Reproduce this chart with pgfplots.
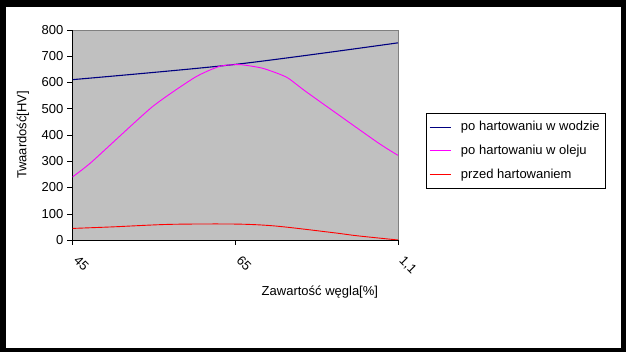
\documentclass[border=0pt]{standalone}
\usepackage{pgfplots}
\pgfplotsset{compat=1.18}
\usepackage{fontspec}
\setmainfont{Liberation Sans}
\definecolor{plotbg}{HTML}{C0C0C0}
\definecolor{navyline}{HTML}{000080}
\definecolor{magline}{HTML}{FF00FF}
\definecolor{redline}{HTML}{FF0000}
\begin{document}
\begin{tikzpicture}
\fill[black] (0pt,0pt) rectangle (626pt,352pt);
\fill[white] (6pt,4pt) rectangle (621pt,345.3pt);
\begin{axis}[
  at={(72.5pt,112pt)}, anchor=south west,
  scale only axis, width=325.5pt, height=210.3pt,
  xmin=0, xmax=2, ymin=0, ymax=800,
  xtick={0,1,2}, xticklabels={45,65,{1,1}},
  ytick={0,100,...,800},
  axis lines=left, axis line style={-, black},
  axis background/.style={fill=plotbg, draw=gray},
  tick align=outside, major tick length=5pt,
  tick style={black, thin},
  font=\fontsize{13}{15}\selectfont,
  /pgf/number format/assume math mode=true,
  yticklabel style={anchor=east, inner sep=0pt, xshift=-4pt},
  xticklabel style={xshift=7pt, yshift=-10pt, rotate=-45, anchor=north west, inner sep=0pt},
  ylabel={Twaardość[HV]},
  ylabel style={at={(axis description cs:-0.152,0.5)}, anchor=center},
  xlabel={Zawartość węgla[\%]},
  xlabel style={at={(axis description cs:0.76,0)}, anchor=center, yshift=-52pt},
  legend style={at={(axis description cs:1.086,0.6025)}, anchor=north west,
    draw=black, fill=white, font=\fontsize{13}{15}\selectfont,
    inner xsep=3pt, inner ysep=6pt, row sep=9pt,
    /tikz/every odd column/.style={column sep=8pt}},
  legend cell align=left,
  legend image code/.code={\draw[#1, line width=0.8pt] (0pt,0pt) -- (21pt,0pt);},
]
\addplot[navyline, line width=1.1pt, smooth] coordinates {(0,610) (1,668) (2,750)};
\addlegendentry{po hartowaniu w wodzie}
\addplot[magline, line width=0.9pt, smooth, tension=0.35] coordinates {
 (0,240) (0.118,297) (0.487,505) (0.753,619) (0.906,661) (1.03,667)
 (1.17,653) (1.316,619) (1.44,562) (1.87,373) (2,322)};
\addlegendentry{po hartowaniu w oleju}
\addplot[redline, line width=0.9pt, smooth] coordinates {
 (0,44) (0.25,50) (0.6,59.5) (1.0,60.6) (1.25,53) (1.6,28) (1.75,16) (2,0)};
\addlegendentry{przed hartowaniem}
\end{axis}
\end{tikzpicture}
\end{document}
